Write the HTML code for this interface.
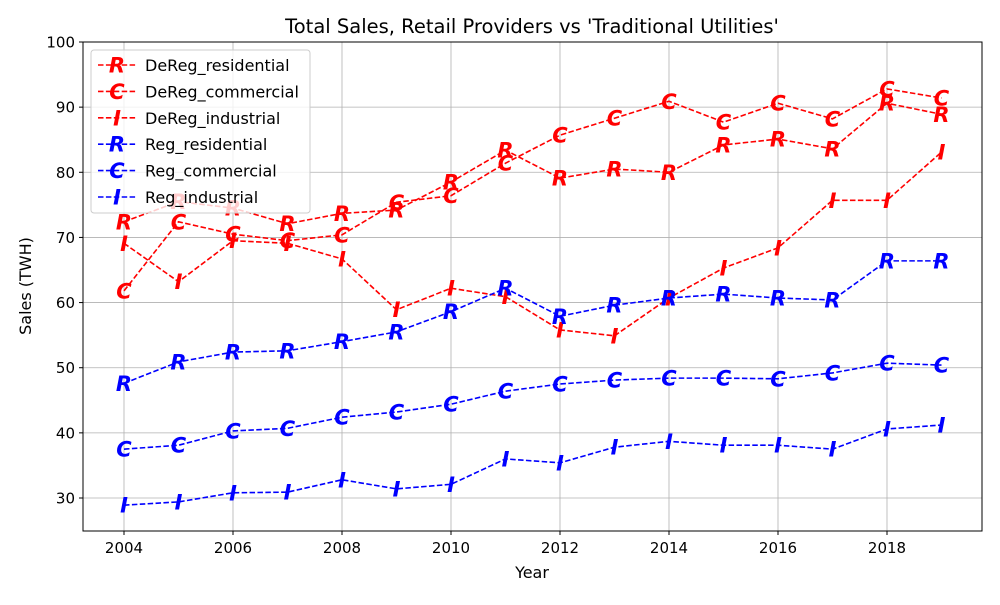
<!DOCTYPE html>
<html><head><meta charset="utf-8"><style>
body{margin:0;background:#fff;}
svg text{font-family:"DejaVu Sans","Liberation Sans",sans-serif;}
</style></head><body>
<svg id="chart" width="1000" height="600" xmlns="http://www.w3.org/2000/svg"></svg>
<script>
const years = [2004,2005,2006,2007,2008,2009,2010,2011,2012,2013,2014,2015,2016,2017,2018,2019];
const deregResidential = [72.4,75.5,74.5,72.1,73.7,74.2,78.5,83.4,79.1,80.5,80.0,84.2,85.1,83.6,90.6,88.9];
const deregCommercial = [61.8,72.4,70.5,69.5,70.4,75.4,76.4,81.4,85.7,88.3,90.9,87.7,90.6,88.2,92.8,91.4];
const deregIndustrial = [69.1,63.2,69.5,69.1,66.7,58.9,62.2,60.9,55.8,54.9,60.7,65.3,68.4,75.7,75.7,83.1];
const regResidential = [47.6,50.9,52.4,52.6,54.0,55.5,58.6,62.2,57.9,59.6,60.7,61.3,60.7,60.4,66.4,66.4];
const regCommercial = [37.5,38.1,40.3,40.7,42.4,43.2,44.4,46.4,47.5,48.1,48.4,48.4,48.3,49.2,50.7,50.4];
const regIndustrial = [28.9,29.4,30.8,30.9,32.8,31.4,32.1,36.0,35.4,37.8,38.7,38.1,38.1,37.5,40.6,41.2];
const xTicks = [2004,2006,2008,2010,2012,2014,2016,2018];
const yTicks = [30,40,50,60,70,80,90,100];
const seriesNames = ["DeReg_residential","DeReg_commercial","DeReg_industrial","Reg_residential","Reg_commercial","Reg_industrial"];

const NS="http://www.w3.org/2000/svg";
const svg=document.getElementById('chart');
const L=83,R=982,T=42,B=531;
const xS=v=>124+(v-2004)*(887-124)/14;
const yS=v=>T+(100-v)*(498-42)/70;
function mk(tag,attrs,parent){const e=document.createElementNS(NS,tag);for(const k in attrs)e.setAttribute(k,attrs[k]);(parent||svg).appendChild(e);return e;}

xTicks.forEach(t=>{const g=mk('line',{x1:xS(t),x2:xS(t),y1:T,y2:B,stroke:'#b0b0b0','stroke-width':0.8});


const tk=mk('line',{x1:xS(t),x2:xS(t),y1:B,y2:B+4,stroke:'#000'});


const tx=mk('text',{x:xS(t),y:B+22,'text-anchor':'middle','font-size':15});tx.textContent=t;

});
yTicks.forEach(t=>{const g=mk('line',{x1:L,x2:R,y1:yS(t),y2:yS(t),stroke:'#b0b0b0','stroke-width':0.8});


const tk=mk('line',{x1:L-4,x2:L,y1:yS(t),y2:yS(t),stroke:'#000'});


const tx=mk('text',{x:L-8,y:yS(t)+5.5,'text-anchor':'end','font-size':15});tx.textContent=t;

});

const series=[[deregResidential,'red','R'],[deregCommercial,'red','C'],[deregIndustrial,'red','I'],[regResidential,'blue','R'],[regCommercial,'blue','C'],[regIndustrial,'blue','I']];
series.forEach((s,i)=>{
  const g=mk('g',{});
  
  
  const pts=s[0].map((v,j)=>xS(years[j])+','+yS(v)).join(' ');
  mk('polyline',{points:pts,fill:'none',stroke:s[1],'stroke-width':1.6,'stroke-dasharray':'5.5,2.4'},g);
  s[0].forEach((v,j)=>{const t=mk('text',{x:xS(years[j]),y:yS(v)+7.5,'text-anchor':'middle','font-size':21,'font-style':'italic','font-weight':'bold',fill:s[1]},g);t.textContent=s[2];
  
  });
});

const frame=mk('rect',{x:L,y:T,width:R-L,height:B-T,fill:'none',stroke:'#000','stroke-width':1});



const title=mk('text',{x:532,y:33,'text-anchor':'middle','font-size':19.5});title.textContent="Total Sales, Retail Providers vs 'Traditional Utilities'";


const xl=mk('text',{x:532,y:578,'text-anchor':'middle','font-size':16});xl.textContent='Year';


const yl=mk('text',{x:31,y:286,'text-anchor':'middle','font-size':16,transform:'rotate(-90 31 286)'});yl.textContent='Sales (TWH)';



const lg=mk('g',{});


mk('rect',{x:91,y:50,width:219,height:163,rx:3,fill:'#fff','fill-opacity':0.8,stroke:'#ccc'},lg);
series.forEach((s,i)=>{
  const y=65+i*26.4;
  const e=mk('g',{},lg);
  
  
  mk('line',{x1:98,x2:136,y1:y,y2:y,stroke:s[1],'stroke-width':1.6,'stroke-dasharray':'5.5,2.4'},e);
  const m=mk('text',{x:117,y:y+7.5,'text-anchor':'middle','font-size':21,'font-style':'italic','font-weight':'bold',fill:s[1]},e);m.textContent=s[2];
  const t=mk('text',{x:145,y:y+6,'font-size':16},e);t.textContent=seriesNames[i];
});
</script>
</body></html>
